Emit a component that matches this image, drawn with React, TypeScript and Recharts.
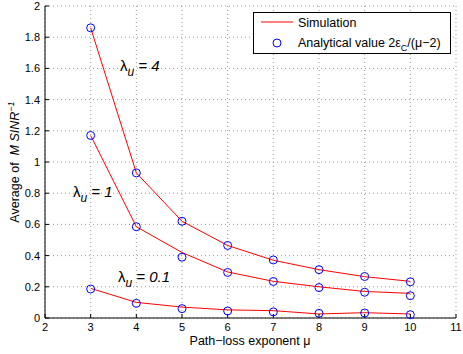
import { LineChart, Line, XAxis, YAxis, CartesianGrid } from "recharts";

// path-loss exponent
const mu = [3, 4, 5, 6, 7, 8, 9, 10];

// simulation curves (red lines)
const sim4 = [1.86, 0.93, 0.62, 0.465, 0.37, 0.31, 0.265, 0.235];
const sim1 = [1.17, 0.585, 0.42, 0.295, 0.235, 0.2, 0.17, 0.158];
const sim01 = [0.19, 0.1, 0.07, 0.052, 0.047, 0.026, 0.034, 0.026];

// analytical values (blue circles)
const ana4 = [1.86, 0.93, 0.62, 0.465, 0.372, 0.31, 0.266, 0.232];
const ana1 = [1.17, 0.585, 0.39, 0.292, 0.234, 0.195, 0.165, 0.143];
const ana01 = [0.186, 0.094, 0.06, 0.045, 0.039, 0.03, 0.032, 0.021];

const xTicks = [2, 3, 4, 5, 6, 7, 8, 9, 10, 11];
const yTicks = [0, 0.2, 0.4, 0.6, 0.8, 1, 1.2, 1.4, 1.6, 1.8, 2];

const FONT = "'Liberation Sans', Arial, Helvetica, sans-serif";

const rows = mu.map((m, i) => ({
  mu: m,
  sim4: sim4[i],
  sim1: sim1[i],
  sim01: sim01[i],
  ana4: ana4[i],
  ana1: ana1[i],
  ana01: ana01[i],
}));

const circle = { r: 4, stroke: "#0000ff", strokeWidth: 1, fill: "none" };

// legend box in the top right corner (drawn over the chart so it does not eat plot space)
const LegendBox = () => (
  <svg
    width={198}
    height={42}
    style={{ position: "absolute", left: 253, top: 12 }}
    fontFamily={FONT}
  >
    <rect x={0.5} y={0.5} width={197} height={41} fill="#fff" stroke="#000" />
    <line x1={8} x2={40} y1={10} y2={10} stroke="#ff0000" strokeWidth={1} />
    <circle cx={24} cy={31} r={4} stroke="#0000ff" fill="none" />
    <text x={45} y={14.5} fontSize={12.5}>Simulation</text>
    <text x={45} y={34.5} fontSize={12.5}>
      Analytical value 2ε
      <tspan fontSize={9} dy={4}>C</tspan>
      <tspan dy={-4}>/(μ−2)</tspan>
    </text>
  </svg>
);

export default function App() {
  return (
    <div style={{ position: "absolute", left: 0, top: 0, width: 463, height: 354, background: "#fff" }}>
      <LineChart
        width={463}
        height={354}
        data={rows}
        margin={{ top: 6, right: 7, left: 0, bottom: 0 }}
      >
        <CartesianGrid
          stroke="#9a9a9a"
          strokeDasharray="1 3"
          verticalValues={xTicks}
          horizontalValues={yTicks}
        />
        <XAxis
          dataKey="mu"
          type="number"
          domain={[2, 11]}
          ticks={xTicks}
          height={36}
          tickSize={-4}
          tickMargin={9}
          axisLine={{ stroke: "#000" }}
          tickLine={{ stroke: "#000" }}
          tick={{ fill: "#000", fontSize: 11, fontFamily: FONT }}
        />
        <XAxis
          xAxisId="top"
          orientation="top"
          type="number"
          domain={[2, 11]}
          ticks={xTicks}
          height={0}
          tickSize={-4}
          tick={false}
          axisLine={{ stroke: "#000" }}
          tickLine={{ stroke: "#000" }}
        />
        <YAxis
          type="number"
          domain={[0, 2]}
          ticks={yTicks}
          width={45}
          tickSize={-4}
          tickMargin={9}
          axisLine={{ stroke: "#000" }}
          tickLine={{ stroke: "#000" }}
          tick={{ fill: "#000", fontSize: 11, fontFamily: FONT }}
        />
        <YAxis
          yAxisId="right"
          orientation="right"
          type="number"
          domain={[0, 2]}
          ticks={yTicks}
          width={0}
          tickSize={-4}
          tick={false}
          axisLine={{ stroke: "#000" }}
          tickLine={{ stroke: "#000" }}
        />
        <Line dataKey="sim4" stroke="#ff0000" strokeWidth={1} dot={false} isAnimationActive={false} />
        <Line dataKey="sim1" stroke="#ff0000" strokeWidth={1} dot={false} isAnimationActive={false} />
        <Line dataKey="sim01" stroke="#ff0000" strokeWidth={1} dot={false} isAnimationActive={false} />
        <Line dataKey="ana4" stroke="none" dot={circle} activeDot={false} isAnimationActive={false} />
        <Line dataKey="ana1" stroke="none" dot={circle} activeDot={false} isAnimationActive={false} />
        <Line dataKey="ana01" stroke="none" dot={circle} activeDot={false} isAnimationActive={false} />
      </LineChart>

      <LegendBox />

      {/* axis titles and curve annotations */}
      <svg
        width={463}
        height={354}
        style={{ position: "absolute", left: 0, top: 0, pointerEvents: "none" }}
        fontFamily={FONT}
      >
        <text x={250} y={345} fontSize={12.5} textAnchor="middle">Path−loss exponent μ</text>
        <text transform="translate(19,162) rotate(-90)" fontSize={12.5} textAnchor="middle">
          Average of
          <tspan fontStyle="italic" dx={7}>M SINR</tspan>
          <tspan fontStyle="italic" fontSize={9} dy={-5}>−1</tspan>
        </text>

        <text x={120} y={71} fontSize={15}>
          λ<tspan fontStyle="italic" fontSize={12} dy={5}>u</tspan>
          <tspan fontStyle="italic" dy={-5}> = 4</tspan>
        </text>
        <text x={73} y={197} fontSize={15}>
          λ<tspan fontStyle="italic" fontSize={12} dy={5}>u</tspan>
          <tspan fontStyle="italic" dy={-5}> = 1</tspan>
        </text>
        <text x={118} y={282} fontSize={15}>
          λ<tspan fontStyle="italic" fontSize={12} dy={5}>u</tspan>
          <tspan fontStyle="italic" dy={-5}> = 0.1</tspan>
        </text>
      </svg>
    </div>
  );
}
